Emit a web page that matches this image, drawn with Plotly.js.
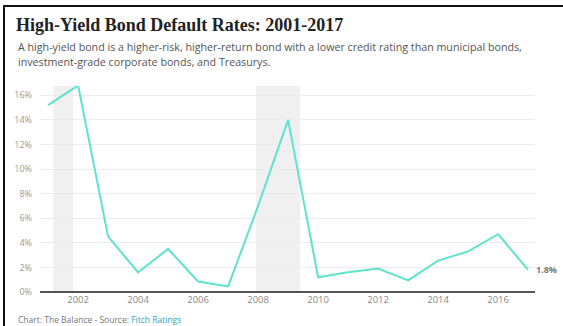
<!DOCTYPE html>
<html><head><meta charset="utf-8">
<script src="https://cdn.plot.ly/plotly-3.0.1.min.js"></script>
<style>
html,body{margin:0;padding:0;background:#fff;}
#wrap{position:relative;width:563px;height:326px;overflow:hidden;}
#chart{position:absolute;left:0;top:0;width:563px;height:326px;}
#frame{position:absolute;left:3px;top:5px;width:600px;height:400px;border-left:2px solid #111;border-top:2px solid #111;pointer-events:none;}
</style></head>
<body><div id="wrap"><div id="chart"></div><div id="frame"></div></div>
<script>
const years = [2001,2002,2003,2004,2005,2006,2007,2008,2009,2010,2011,2012,2013,2014,2015,2016,2017];
const defaultRates = [15.2,16.8,4.5,1.6,3.5,0.85,0.45,7.0,14.0,1.2,1.6,1.9,0.95,2.55,3.3,4.7,1.8];
const tickYears = [2002,2004,2006,2008,2010,2012,2014,2016];
const tickLabels = ['2002','2004','2006','2008','2010','2012','2014','2016'];
const yTicks = [0,2,4,6,8,10,12,14,16];
const yTickLabels = ['0%','2%','4%','6%','8%','10%','12%','14%','16%'];
const recessions = [[2001.17,2001.83],[2007.93,2009.4]];
const titleText = 'High-Yield Bond Default Rates: 2001-2017';
const subtitleLines = ['A high-yield bond is a higher-risk, higher-return bond with a lower credit rating than municipal bonds,','investment-grade corporate bonds, and Treasurys.'];
const lastLabel = '1.8%';

const W=563,H=326,L=40,R=28,T=86,B=34;
const pw=W-L-R, ph=H-T-B;
const px=x=>(x-L)/pw, py=y=>(H-B-y)/ph;

const shapes = recessions.map(r=>({type:'rect',xref:'x',yref:'paper',x0:r[0],x1:r[1],y0:0,y1:1,fillcolor:'#f0f0f0',line:{width:0},layer:'below'}));

const annotations = [
 {xref:'paper',yref:'paper',x:px(16),y:py(47),xanchor:'left',yanchor:'middle',showarrow:false,align:'left',
  text:subtitleLines[0],font:{family:'Open Sans, sans-serif',size:10.7,color:'#555'}},
 {xref:'paper',yref:'paper',x:px(16),y:py(62),xanchor:'left',yanchor:'middle',showarrow:false,align:'left',
  text:subtitleLines[1],font:{family:'Open Sans, sans-serif',size:10.7,color:'#555'}},
 {xref:'x',yref:'y',x:years[years.length-1],y:defaultRates[defaultRates.length-1],xanchor:'left',yanchor:'middle',xshift:6,showarrow:false,
  text:'<b>'+lastLabel+'</b>',font:{family:'Open Sans, sans-serif',size:9,color:'#777'}},
 {xref:'paper',yref:'paper',x:px(16),y:py(319),xanchor:'left',yanchor:'middle',showarrow:false,
  text:'Chart: The Balance - Source: <span style="color:#2aa6c4">Fitch Ratings</span>',font:{family:'Open Sans, sans-serif',size:8.5,color:'#777'}}
];

Plotly.newPlot('chart',[{
  x:years,y:defaultRates,type:'scatter',mode:'lines',
  line:{color:'#5ee3cd',width:2},hoverinfo:'skip'
}],{
  width:W,height:H,margin:{l:L,r:R,t:T,b:B,pad:0},
  paper_bgcolor:'#fff',plot_bgcolor:'rgba(0,0,0,0)',
  showlegend:false,
  title:{text:'<b>'+titleText+'</b>',xref:'container',yref:'container',x:16/W,xanchor:'left',y:1-25/H,yanchor:'middle',
    font:{family:'Liberation Serif, DejaVu Serif, serif',size:18,color:'#222'}},
  xaxis:{range:[2000.73,2017.23],tickvals:tickYears,ticktext:tickLabels,showgrid:false,zeroline:false,
    showline:false,ticks:'',tickfont:{family:'Open Sans, sans-serif',size:9.5,color:'#888'},fixedrange:true},
  yaxis:{range:[0,16.75],tickvals:yTicks,ticktext:yTickLabels,showgrid:true,gridcolor:'#ececec',gridwidth:1,
    zeroline:true,zerolinecolor:'#555',zerolinewidth:2,showline:false,ticks:'',ticklabelstandoff:7,
    tickfont:{family:'Open Sans, sans-serif',size:9,color:'#999'},fixedrange:true},
  shapes:shapes,annotations:annotations
},{displayModeBar:false,staticPlot:true});
</script></body></html>
